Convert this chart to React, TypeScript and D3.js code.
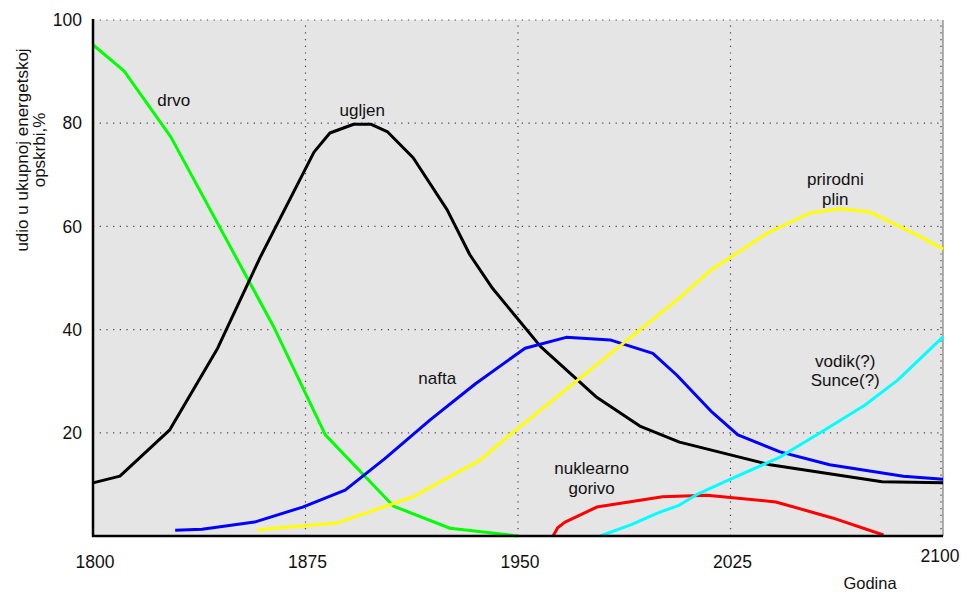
import React, { useRef, useEffect } from "react";
import * as d3 from "d3";

type Pt = [number, number];

// year, share %
const drvo: Pt[] = [
  [1800, 95.2], [1811, 90.1], [1827.5, 77.3], [1864, 40.3], [1882, 19.6],
  [1906, 5.8], [1926, 1.5], [1950, 0],
];
const ugljen: Pt[] = [
  [1800, 10.3], [1809.5, 11.6], [1827, 20.5], [1844, 36.4], [1859, 54],
  [1878, 74.4], [1883.6, 78.1], [1892, 79.8], [1898, 79.8], [1904, 78.3],
  [1913, 73.3], [1925, 63.2], [1933, 54.5], [1941, 48], [1958, 36.7],
  [1977.5, 27], [1993, 21.3], [2007, 18.2], [2039, 13.8], [2078.5, 10.5],
  [2100, 10.3],
];
const nafta: Pt[] = [
  [1829, 1.1], [1838.5, 1.3], [1857, 2.7], [1874, 5.6], [1889, 8.9],
  [1903, 15], [1919, 22.5], [1935, 29.5], [1952.5, 36.4], [1967, 38.5],
  [1982.5, 38], [1997.6, 35.4], [2006, 31.2], [2018.5, 24], [2027.6, 19.6],
  [2042.5, 16.3], [2060, 13.8], [2086, 11.6], [2100, 11],
];
const prirodniPlin: Pt[] = [
  [1858, 1.2], [1886, 2.5], [1913, 7.6], [1936.6, 14.7], [1948, 20],
  [2006, 45.7], [2018, 51.5], [2038, 58.7], [2053, 62.6], [2063.7, 63.4],
  [2074, 62.8], [2091, 58.3], [2100, 55.6],
];
const nuklearno: Pt[] = [
  [1962.4, 0], [1964, 1.6], [1966.6, 2.7], [1977.8, 5.6], [2001, 7.6],
  [2016.7, 7.9], [2041, 6.6], [2061, 3.5], [2079, 0.2],
];
const vodikSunce: Pt[] = [
  [1979, 0], [1990, 2.2], [1999, 4.4], [2007, 6], [2013, 8], [2025, 11],
  [2042.5, 15.3], [2057.5, 20.3], [2072.5, 25.4], [2084, 30.2], [2100, 38.6],
];

const series = [
  { name: "drvo", data: drvo, color: "#00ff00" },
  { name: "ugljen", data: ugljen, color: "#000000" },
  { name: "nafta", data: nafta, color: "#0000ff" },
  { name: "prirodni plin", data: prirodniPlin, color: "#ffff00" },
  { name: "nuklearno gorivo", data: nuklearno, color: "#ff0000" },
  { name: "vodik/Sunce", data: vodikSunce, color: "#00ffff" },
];

const xTicks = [1800, 1875, 1950, 2025, 2100];
const yTicks = [20, 40, 60, 80, 100];

// label lines and their anchor (year, value)
const labels: { lines: string[]; at: Pt }[] = [
  { lines: ["drvo"], at: [1828.5, 84.5] },
  { lines: ["ugljen"], at: [1895, 82.5] },
  { lines: ["prirodni", "plin"], at: [2062, 69.2] },
  { lines: ["nafta"], at: [1921.5, 30.6] },
  { lines: ["nuklearno", "gorivo"], at: [1976, 13.2] },
  { lines: ["vodik(?)", "Sunce(?)"], at: [2065.5, 34] },
];

const W = 966;
const H = 594;
const FONT = "'Liberation Sans', Arial, sans-serif";

const App: React.FC = () => {
  const svgRef = useRef<SVGSVGElement>(null);

  useEffect(() => {
    if (!svgRef.current) return;
    const svg = d3.select(svgRef.current);
    svg.selectAll("*").remove();

    const x = d3.scaleLinear().domain([1800, 2100]).range([93, 943]);
    const y = d3.scaleLinear().domain([0, 100]).range([536, 20]);

    svg
      .append("rect")
      .attr("x", x(1800))
      .attr("y", y(100))
      .attr("width", x(2100) - x(1800))
      .attr("height", y(0) - y(100))
      .attr("fill", "#e5e5e5");

    // dotted grid
    const grid = svg.append("g").attr("stroke", "#444").attr("stroke-width", 1.2).attr("stroke-dasharray", "1.2 5.5");
    yTicks.forEach((t) => {
      grid.append("line").attr("x1", x(1800)).attr("x2", x(2100)).attr("y1", y(t)).attr("y2", y(t));
    });
    xTicks.slice(1, -1).forEach((t) => {
      grid.append("line").attr("x1", x(t)).attr("x2", x(t)).attr("y1", y(0)).attr("y2", y(100));
    });
    grid.append("line").attr("x1", x(2100) - 2).attr("x2", x(2100) - 2).attr("y1", y(0)).attr("y2", y(100));

    svg
      .append("line")
      .attr("x1", x(2100)).attr("x2", x(2100)).attr("y1", y(0)).attr("y2", y(100))
      .attr("stroke", "#666").attr("stroke-width", 1);

    const line = d3
      .line<Pt>()
      .x((d) => x(d[0]))
      .y((d) => y(d[1]));

    series.forEach((s) => {
      svg
        .append("path")
        .attr("d", line(s.data) ?? "")
        .attr("fill", "none")
        .attr("stroke", s.color)
        .attr("stroke-width", 3)
        .attr("stroke-linejoin", "round");
    });

    // axes
    svg.append("line")
      .attr("x1", x(1800)).attr("x2", x(1800)).attr("y1", y(100) - 1).attr("y2", y(0) + 1)
      .attr("stroke", "#000").attr("stroke-width", 2.5);
    svg.append("line")
      .attr("x1", x(1800) - 1).attr("x2", x(2100)).attr("y1", y(0)).attr("y2", y(0))
      .attr("stroke", "#000").attr("stroke-width", 2.5);

    const text = svg.append("g").attr("font-family", FONT).attr("fill", "#111");

    yTicks.forEach((t) => {
      text.append("text")
        .attr("x", 82).attr("y", y(t)).attr("dy", "0.35em")
        .attr("text-anchor", "end").attr("font-size", 17.5).text(t);
    });
    xTicks.forEach((t, i) => {
      text.append("text")
        .attr("x", x(t) + (i === xTicks.length - 1 ? -3 : 2))
        .attr("y", i === xTicks.length - 1 ? 562 : 568)
        .attr("text-anchor", "middle").attr("font-size", 17.5).text(t);
    });

    text.append("text")
      .attr("x", 870).attr("y", 589)
      .attr("text-anchor", "middle").attr("font-size", 16.5).text("Godina");

    const yt = text.append("text")
      .attr("transform", "translate(28,150) rotate(-90)")
      .attr("text-anchor", "middle").attr("font-size", 17);
    yt.append("tspan").attr("x", 0).attr("y", 0).text("udio u ukupnoj energetskoj");
    yt.append("tspan").attr("x", 0).attr("y", 17).text("opskrbi,%");

    labels.forEach((l) => {
      const t = text.append("text")
        .attr("text-anchor", "middle").attr("font-size", 17)
        .attr("transform", `translate(${x(l.at[0])},${y(l.at[1])})`);
      l.lines.forEach((ln, i) => {
        t.append("tspan").attr("x", 0).attr("y", i * 20).attr("dy", "0.35em").text(ln);
      });
    });
  }, []);

  return (
    <div style={{ position: "absolute", left: 0, top: 0, width: W, height: H, background: "#fff" }}>
      <svg ref={svgRef} width={W} height={H} style={{ display: "block" }} />
    </div>
  );
};

export default App;
